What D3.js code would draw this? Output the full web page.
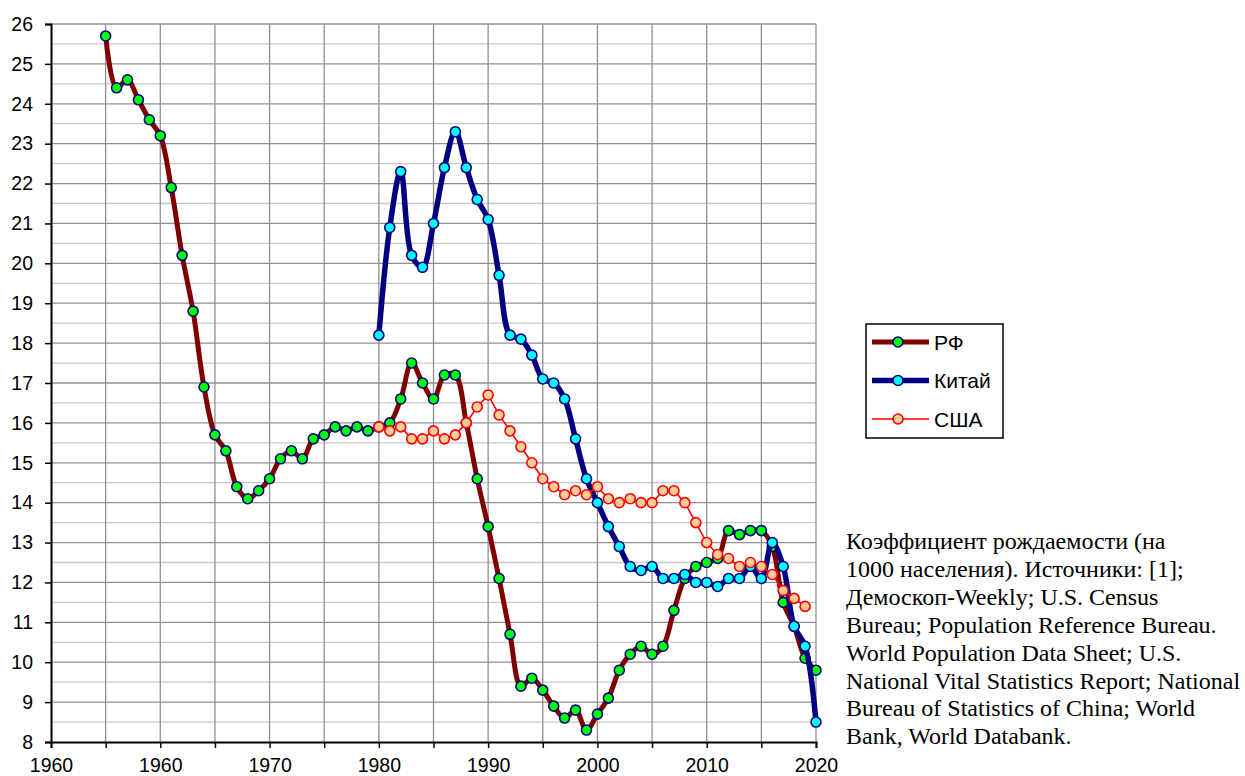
<!DOCTYPE html>
<html>
<head>
<meta charset="utf-8">
<script src="https://cdn.jsdelivr.net/npm/d3@7"></script>
<style>
  body { margin: 0; background: #fff; }
  #chart { width: 1245px; height: 776px; }
  .axis text { font-family: "Liberation Sans", Arial, sans-serif; font-size: 19.5px; fill: #000; }
  .note { font-family: "Liberation Serif", "Times New Roman", serif; font-size: 24px; fill: #000; }
</style>
</head>
<body>
<div id="chart"></div>
<script>
// birth rate per 1000 population
const rf = {
  start: 1955,
  values: [25.7, 24.4, 24.6, 24.1, 23.6, 23.2, 21.9, 20.2, 18.8, 16.9,
    15.7, 15.3, 14.4, 14.1, 14.3, 14.6, 15.1, 15.3, 15.1, 15.6,
    15.7, 15.9, 15.8, 15.9, 15.8, 15.9, 16.0, 16.6, 17.5, 17.0,
    16.6, 17.2, 17.2, 16.0, 14.6, 13.4, 12.1, 10.7, 9.4, 9.6,
    9.3, 8.9, 8.6, 8.8, 8.3, 8.7, 9.1, 9.8, 10.2, 10.4,
    10.2, 10.4, 11.3, 12.1, 12.4, 12.5, 12.6, 13.3, 13.2, 13.3,
    13.3, 12.9, 11.5, 10.9, 10.1, 9.8]
};
const china = {
  start: 1980,
  values: [18.2, 20.9, 22.3, 20.2, 19.9, 21.0, 22.4, 23.3, 22.4, 21.6,
    21.1, 19.7, 18.2, 18.1, 17.7, 17.1, 17.0, 16.6, 15.6, 14.6,
    14.0, 13.4, 12.9, 12.4, 12.3, 12.4, 12.1, 12.1, 12.2, 12.0,
    12.0, 11.9, 12.1, 12.1, 12.4, 12.1, 13.0, 12.4, 10.9, 10.4,
    8.5]
};
const usa = {
  start: 1980,
  values: [15.9, 15.8, 15.9, 15.6, 15.6, 15.8, 15.6, 15.7, 16.0, 16.4,
    16.7, 16.2, 15.8, 15.4, 15.0, 14.6, 14.4, 14.2, 14.3, 14.2,
    14.4, 14.1, 14.0, 14.1, 14.0, 14.0, 14.3, 14.3, 14.0, 13.5,
    13.0, 12.7, 12.6, 12.4, 12.5, 12.4, 12.2, 11.8, 11.6, 11.4]
};

const series = [
  { name: 'РФ', data: rf, line: '#800000', width: 5, fill: '#00ff00', stroke: '#000080', smooth: true },
  { name: 'Китай', data: china, line: '#000080', width: 5.5, fill: '#00ffff', stroke: '#000080', smooth: true },
  { name: 'США', data: usa, line: '#ff0000', width: 1.6, fill: '#ffcc99', stroke: '#ff0000', smooth: false }
];

const noteLines = [
  'Коэффициент рождаемости (на',
  '1000 населения). Источники: [1];',
  'Демоскоп-Weekly; U.S. Census',
  'Bureau; Population Reference Bureau.',
  'World Population Data Sheet; U.S.',
  'National Vital Statistics Report; National',
  'Bureau of Statistics of China; World',
  'Bank, World Databank.'
];

const chart = {
  width: 1245,
  height: 776,
  plot: { left: 51, right: 816, top: 24, bottom: 742 },

  init() {
    this.svg = d3.select('#chart').append('svg')
      .attr('width', this.width)
      .attr('height', this.height);

    this.x = d3.scaleLinear().domain([1950, 2020]).range([this.plot.left, this.plot.right]);
    this.y = d3.scaleLinear().domain([8, 26]).range([this.plot.bottom, this.plot.top]);

    this.drawGrid();
    this.drawAxes();
    series.forEach((s) => this.drawSeries(s));
    this.drawLegend();
    this.drawNote();
  },

  drawGrid() {
    const g = this.svg.append('g');
    const minor = d3.range(8.5, 26, 1);
    const major = d3.range(9, 27, 1);
    const years = d3.range(1955, 2021, 5);

    g.selectAll('.minor').data(minor).join('line')
      .attr('x1', this.plot.left).attr('x2', this.plot.right)
      .attr('y1', (d) => this.y(d)).attr('y2', (d) => this.y(d))
      .attr('stroke', '#c8c8c8').attr('stroke-width', 1.3);

    g.selectAll('.major').data(major).join('line')
      .attr('x1', this.plot.left).attr('x2', this.plot.right)
      .attr('y1', (d) => this.y(d)).attr('y2', (d) => this.y(d))
      .attr('stroke', '#909090').attr('stroke-width', 1.3);

    g.selectAll('.vert').data(years).join('line')
      .attr('x1', (d) => this.x(d)).attr('x2', (d) => this.x(d))
      .attr('y1', this.plot.top).attr('y2', this.plot.bottom)
      .attr('stroke', '#909090').attr('stroke-width', 1.3);
  },

  drawAxes() {
    // the original labels its first tick 1960 as well
    const xAxis = d3.axisBottom(this.x)
      .tickValues(d3.range(1950, 2021, 5))
      .tickSize(6)
      .tickPadding(10)
      .tickFormat((d) => (d % 10 ? '' : (d === 1950 ? '1960' : d)));

    const yAxis = d3.axisLeft(this.y)
      .tickValues(d3.range(8, 27, 1))
      .tickSize(6)
      .tickPadding(12)
      .tickFormat(d3.format('d'));

    const gx = this.svg.append('g').attr('class', 'axis')
      .attr('transform', `translate(0,${this.plot.bottom})`)
      .call(xAxis);
    const gy = this.svg.append('g').attr('class', 'axis')
      .attr('transform', `translate(${this.plot.left},0)`)
      .call(yAxis);

    for (const g of [gx, gy]) {
      g.select('.domain').attr('stroke', '#000').attr('stroke-width', 2);
      g.selectAll('.tick line').attr('stroke', '#000').attr('stroke-width', 1.5);
    }
  },

  points(s) {
    return s.data.values.map((v, i) => ({ year: s.data.start + i, value: v }));
  },

  drawSeries(s) {
    const pts = this.points(s);
    const line = d3.line()
      .x((d) => this.x(d.year))
      .y((d) => this.y(d.value))
      .curve(s.smooth ? d3.curveCatmullRom.alpha(0.5) : d3.curveLinear);

    const g = this.svg.append('g');
    g.append('path')
      .datum(pts)
      .attr('d', line)
      .attr('fill', 'none')
      .attr('stroke', s.line)
      .attr('stroke-width', s.width)
      .attr('stroke-linejoin', 'round');

    g.selectAll('circle').data(pts).join('circle')
      .attr('cx', (d) => this.x(d.year))
      .attr('cy', (d) => this.y(d.value))
      .attr('r', 5)
      .attr('fill', s.fill)
      .attr('stroke', s.stroke)
      .attr('stroke-width', 1.6);
  },

  drawLegend() {
    const g = this.svg.append('g').attr('transform', 'translate(866,324)');
    g.append('rect')
      .attr('width', 137).attr('height', 114)
      .attr('fill', '#fff')
      .attr('stroke', '#000')
      .attr('stroke-width', 1.5);

    series.forEach((s, i) => {
      const cy = 18 + i * 38.5;
      g.append('line')
        .attr('x1', 6).attr('x2', 63)
        .attr('y1', cy).attr('y2', cy)
        .attr('stroke', s.line)
        .attr('stroke-width', s.width);
      g.append('circle')
        .attr('cx', 32).attr('cy', cy).attr('r', 5)
        .attr('fill', s.fill)
        .attr('stroke', s.stroke)
        .attr('stroke-width', 1.6);
      g.append('text')
        .attr('x', 68).attr('y', cy)
        .attr('dy', '0.36em')
        .style('font-family', '"Liberation Sans", Arial, sans-serif')
        .style('font-size', '21px')
        .text(s.name);
    });
  },

  drawNote() {
    const t = this.svg.append('text').attr('class', 'note');
    noteLines.forEach((l, i) => {
      t.append('tspan')
        .attr('x', 846)
        .attr('y', 549 + i * 27.9)
        .text(l);
    });
  }
};

chart.init();
</script>
</body>
</html>
